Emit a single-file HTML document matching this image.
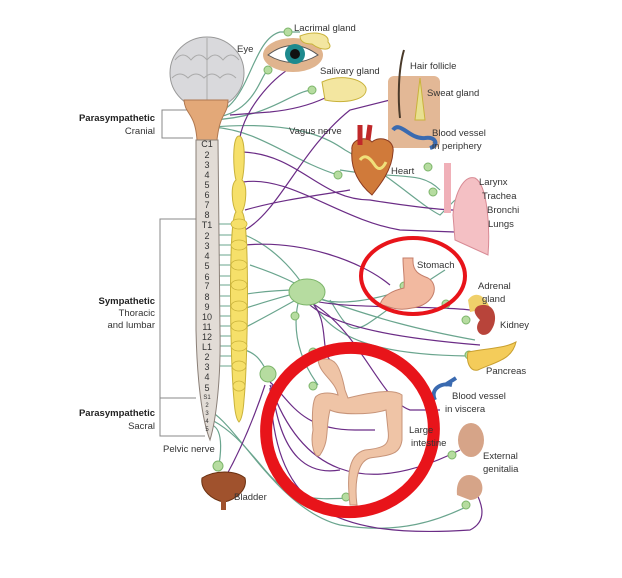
<!DOCTYPE html>
<html><head><meta charset="utf-8"><style>
html,body{margin:0;padding:0;background:#fff;}
svg{display:block;font-family:"Liberation Sans",sans-serif;}
.t{font-size:9.5px;fill:#333;}
.b{font-size:9.5px;font-weight:bold;fill:#222;}
.v{font-size:9px;fill:#333;text-anchor:middle;}
.g{fill:none;stroke:#6aa58e;stroke-width:1.2;}
.p{fill:none;stroke:#6b2c86;stroke-width:1.2;}
.gn{fill:#b6dca0;stroke:#7cb56a;stroke-width:1;}
</style></head><body>
<svg width="622" height="578" viewBox="0 0 622 578">
<rect width="622" height="578" fill="#fff"/>
<!-- brackets -->
<path d="M193,110 H162 V138 H193" fill="none" stroke="#888" stroke-width="1"/>
<path d="M196,219 H160 V398 H196 M160,398 V436 H205" fill="none" stroke="#888" stroke-width="1"/>
<text class="b" x="155" y="121" text-anchor="end">Parasympathetic</text>
<text class="t" x="155" y="134" text-anchor="end">Cranial</text>
<text class="b" x="155" y="304" text-anchor="end">Sympathetic</text>
<text class="t" x="155" y="316" text-anchor="end">Thoracic</text>
<text class="t" x="155" y="328" text-anchor="end">and lumbar</text>
<text class="b" x="155" y="416" text-anchor="end">Parasympathetic</text>
<text class="t" x="155" y="429" text-anchor="end">Sacral</text>
<!-- nerves green -->
<g class="g">
<path d="M210,115 C250,110 250,40 280,32 L300,32"/>
<path d="M210,118 C255,115 260,75 268,70"/>
<path d="M210,120 C270,118 290,92 312,90"/>
<path d="M212,127 C300,120 330,140 345,150 C390,175 420,205 440,215 L455,200"/>
<path d="M212,127 C260,130 290,160 338,175"/>
<path d="M250,265 C280,275 300,285 305,290"/>
<path d="M245,235 C280,250 300,280 305,288"/>
<path d="M240,295 C270,290 290,290 300,290"/>
<path d="M240,310 C270,300 290,295 300,292"/>
<path d="M240,330 C270,315 295,300 305,295"/>
<path d="M245,350 C260,355 262,365 268,372"/>
<path d="M310,295 C320,300 340,310 405,290"/>
<path d="M310,295 C380,320 420,330 475,340"/>
<path d="M310,298 C330,340 380,355 468,356"/>
<path d="M300,295 C290,330 300,360 318,385"/>
<path d="M212,420 C230,430 240,440 265,470 C290,500 310,500 350,498"/>
<path d="M212,412 C240,430 280,510 340,525 C400,535 440,520 470,505"/>
<path d="M212,425 C225,430 220,460 218,470"/>
<path d="M330,300 C360,350 350,330 445,270"/>
<path d="M340,170 C400,180 420,170 440,190"/>
</g>
<g stroke="#6aa58e" stroke-width="1">
<line x1="212" y1="224" x2="240" y2="224"/><line x1="212" y1="235" x2="240" y2="235"/><line x1="212" y1="245" x2="240" y2="245"/><line x1="212" y1="255" x2="240" y2="255"/><line x1="212" y1="265" x2="240" y2="265"/><line x1="212" y1="276" x2="240" y2="276"/><line x1="212" y1="285" x2="240" y2="285"/><line x1="212" y1="296" x2="240" y2="296"/><line x1="212" y1="306" x2="240" y2="306"/><line x1="212" y1="316" x2="240" y2="316"/><line x1="212" y1="326" x2="240" y2="326"/><line x1="212" y1="336" x2="240" y2="336"/><line x1="212" y1="346" x2="240" y2="346"/><line x1="212" y1="356" x2="240" y2="356"/><line x1="212" y1="366" x2="240" y2="366"/>
</g>
<!-- purple -->
<g class="p">
<path d="M240,137 C245,110 270,80 292,67"/>
<path d="M243,152 C300,155 320,200 370,200 C400,205 440,210 455,210"/>
<path d="M243,182 C290,175 340,220 400,230 L455,232"/>
<path d="M245,210 C280,200 320,195 350,190"/>
<path d="M245,230 C280,210 300,150 350,110 L390,100"/>
<path d="M245,245 C300,240 360,260 390,285"/>
<path d="M305,298 C330,310 430,305 470,310"/>
<path d="M305,300 C330,330 420,340 480,345"/>
<path d="M310,300 C330,320 320,350 330,360"/>
<path d="M310,302 C360,330 380,400 410,410 L440,410"/>
<path d="M270,382 C290,400 300,430 355,430 L375,430"/>
<path d="M272,385 C280,460 310,475 340,470"/>
<path d="M265,385 C250,430 235,460 225,478"/>
<path d="M270,388 C275,500 320,540 470,530 C490,520 480,500 475,490"/>
<path d="M270,385 C300,470 360,500 460,450"/>
<path d="M325,98 C310,105 290,110 270,112 L230,115"/>
</g>
<!-- brain -->
<ellipse cx="207" cy="73" rx="37" ry="36" fill="#d9d9dc" stroke="#999" stroke-width="1"/>
<path d="M175,60 q8,-10 16,0 q8,-10 16,0 q8,-10 16,0 q8,-10 16,0 M172,78 q8,-8 16,0 q8,-8 16,0 q8,-8 16,0 q8,-8 16,0 M207,38 V100" fill="none" stroke="#aaa" stroke-width="1"/>
<path d="M184,100 C185,115 195,112 197,140 H217 C220,112 228,115 228,100 Z" fill="#e3a878" stroke="#b07850"/>
<!-- spinal column -->
<path d="M196,140 H218 L220,330 C221,380 216,420 210,440 C202,420 197,380 196,330 Z" fill="#e2dcd6" stroke="#8a7f77" stroke-width="1"/>
<g class="v">
<text x="207" y="147">C1</text><text x="207" y="158">2</text><text x="207" y="168">3</text><text x="207" y="178">4</text><text x="207" y="188">5</text><text x="207" y="198">6</text><text x="207" y="208">7</text><text x="207" y="218">8</text>
<text x="207" y="228">T1</text><text x="207" y="239">2</text><text x="207" y="249">3</text><text x="207" y="259">4</text><text x="207" y="269">5</text><text x="207" y="280">6</text><text x="207" y="289">7</text><text x="207" y="300">8</text><text x="207" y="310">9</text><text x="207" y="320">10</text><text x="207" y="330">11</text><text x="207" y="340">12</text>
<text x="207" y="350">L1</text><text x="207" y="360">2</text><text x="207" y="370">3</text><text x="207" y="380">4</text><text x="207" y="391">5</text>
<text x="207" y="399" font-size="6">S1</text><text x="207" y="407" font-size="6">2</text><text x="207" y="415" font-size="6">3</text><text x="207" y="423" font-size="6">4</text><text x="207" y="431" font-size="6">5</text>
</g>
<!-- sympathetic chain -->
<path d="M239,136 C246,136 245,170 242,180 C248,185 246,205 242,212 C250,220 248,360 244,400 C243,415 241,420 239,422 C237,420 235,415 234,400 C230,360 228,220 236,212 C232,205 230,185 236,180 C233,170 232,136 239,136 Z" fill="#f6e06a" stroke="#c9b23a" stroke-width="1"/>
<g fill="#f6e06a" stroke="#c9b23a" stroke-width="0.8">
<ellipse cx="239" cy="224" rx="8" ry="5"/><ellipse cx="239" cy="245" rx="8" ry="5"/><ellipse cx="239" cy="265" rx="8" ry="5"/><ellipse cx="239" cy="285" rx="8" ry="5"/><ellipse cx="239" cy="306" rx="8" ry="5"/><ellipse cx="239" cy="326" rx="8" ry="5"/><ellipse cx="239" cy="346" rx="8" ry="5"/><ellipse cx="239" cy="366" rx="7" ry="5"/><ellipse cx="239" cy="386" rx="6" ry="5"/>
</g>
<!-- ganglia -->
<ellipse cx="307" cy="292" rx="18" ry="13" class="gn"/>
<circle cx="268" cy="374" r="8" class="gn"/>
<g class="gn"><circle cx="288" cy="32" r="4"/><circle cx="268" cy="70" r="4"/><circle cx="312" cy="90" r="4"/><circle cx="338" cy="175" r="4"/><circle cx="433" cy="192" r="4"/><circle cx="404" cy="286" r="4"/><circle cx="466" cy="320" r="4"/><circle cx="469" cy="355" r="4"/><circle cx="446" cy="304" r="4"/><circle cx="295" cy="316" r="4"/><circle cx="313" cy="352" r="4"/><circle cx="313" cy="386" r="4"/><circle cx="346" cy="497" r="4"/><circle cx="452" cy="455" r="4"/><circle cx="466" cy="505" r="4"/><circle cx="218" cy="466" r="5"/><circle cx="428" cy="167" r="4"/></g>
<!-- eye -->
<ellipse cx="293" cy="55" rx="30" ry="17" fill="#e0b48e"/>
<path d="M268,55 Q293,36 318,55 Q293,70 268,55Z" fill="#fff" stroke="#555"/>
<circle cx="295" cy="54" r="10" fill="#1e8a8e"/><circle cx="295" cy="54" r="5" fill="#111"/>
<path d="M300,36 C315,30 330,34 328,42 C335,50 322,52 312,44 C305,44 300,42 300,36Z" fill="#f3e6a0" stroke="#c9b23a"/>
<path d="M322,82 C340,74 362,78 366,88 C368,100 345,104 325,100 Z" fill="#f3e6a0" stroke="#c9b23a"/>
<!-- skin -->
<rect x="388" y="76" width="52" height="72" rx="6" fill="#e3b896"/>
<path d="M404,50 C398,70 398,100 400,118" stroke="#4a3a2a" stroke-width="2" fill="none"/>
<path d="M420,78 L425,120 L415,120Z" fill="#e8e090" stroke="#c9b23a"/>
<path d="M393,130 C400,120 410,140 425,138 C435,136 440,145 430,148" stroke="#3a6ab0" stroke-width="4" fill="none"/>
<!-- heart -->
<path d="M352,150 C350,140 365,135 372,142 C380,135 395,140 393,152 C392,170 380,185 372,195 C360,185 350,170 352,150Z" fill="#d07a3a" stroke="#8a3a20"/>
<path d="M360,145 L360,125 M368,140 L370,125" stroke="#c0282a" stroke-width="5"/>
<path d="M360,160 q6,-8 14,4 q6,10 12,-2" stroke="#f0e07a" stroke-width="3" fill="none"/>
<!-- lungs -->
<rect x="444" y="163" width="7" height="50" fill="#f0b0b8"/>
<path d="M453,215 C455,190 465,175 475,178 C488,185 490,230 488,255 L455,240 Z" fill="#f4c0c4" stroke="#d88a94"/>
<!-- stomach -->
<path d="M403,258 L413,258 C412,272 420,275 428,278 C440,285 435,305 412,308 C395,312 388,305 380,305 C382,295 395,290 404,288 C405,280 403,270 403,258Z" fill="#f2b9a0" stroke="#c47e6a"/>
<!-- adrenal kidney pancreas -->
<path d="M468,300 C475,290 485,295 490,308 L470,312 Z" fill="#f0d06a"/>
<path d="M478,306 C495,300 500,320 490,332 C482,340 472,330 480,320 C475,315 472,310 478,306Z" fill="#b8443a"/>
<path d="M468,352 C490,348 505,348 516,342 C512,360 495,362 478,370 C470,372 466,362 468,352Z" fill="#f4cc5a" stroke="#c9a030"/>
<!-- vessel -->
<path d="M435,400 C430,390 440,382 452,385 M445,385 L456,378" stroke="#3a6ab0" stroke-width="4" fill="none"/>
<!-- genitalia -->
<ellipse cx="471" cy="440" rx="13" ry="17" fill="#d6a488"/>
<path d="M457,495 C455,475 470,470 480,480 C486,490 480,500 470,500 Z" fill="#d6a488"/>
<!-- large intestine -->
<path d="M318,360 C335,355 340,365 345,390 L348,398 C380,390 395,390 402,395 L402,440 C400,455 390,455 370,458 C355,462 355,490 357,505 L350,505 C348,485 345,455 365,450 C385,448 390,445 388,430 L386,410 C370,415 340,415 330,410 C325,430 330,440 320,455 C315,460 310,445 313,430 C312,420 312,405 315,398 C318,392 330,392 338,395 C335,380 320,375 318,360Z" fill="#efc4a6" stroke="#c79479"/>
<!-- bladder -->
<path d="M202,478 C215,470 235,470 245,478 C248,490 235,500 224,502 C212,500 200,490 202,478Z" fill="#a0522d" stroke="#6a3010"/>
<rect x="221" y="500" width="5" height="10" fill="#a0522d"/>
<!-- red circles -->
<ellipse cx="413" cy="276" rx="52" ry="38" fill="none" stroke="#e8141a" stroke-width="4"/>
<ellipse cx="350" cy="430" rx="84" ry="82" fill="none" stroke="#e8141a" stroke-width="12" transform="rotate(-15 350 430)"/>
<!-- labels -->
<g class="t">
<text x="294" y="31">Lacrimal gland</text>
<text x="237" y="52">Eye</text>
<text x="320" y="74">Salivary gland</text>
<text x="410" y="69">Hair follicle</text>
<text x="427" y="96">Sweat gland</text>
<text x="289" y="134">Vagus nerve</text>
<text x="432" y="136">Blood vessel</text>
<text x="432" y="149">in periphery</text>
<text x="391" y="174">Heart</text>
<text x="479" y="185">Larynx</text>
<text x="482" y="199">Trachea</text>
<text x="487" y="213">Bronchi</text>
<text x="488" y="227">Lungs</text>
<text x="417" y="268">Stomach</text>
<text x="478" y="289">Adrenal</text>
<text x="482" y="302">gland</text>
<text x="500" y="328">Kidney</text>
<text x="486" y="374">Pancreas</text>
<text x="452" y="399">Blood vessel</text>
<text x="445" y="412">in viscera</text>
<text x="409" y="433">Large</text>
<text x="411" y="446">intestine</text>
<text x="483" y="459">External</text>
<text x="483" y="472">genitalia</text>
<text x="163" y="452">Pelvic nerve</text>
<text x="234" y="500">Bladder</text>
</g>
</svg>
</body></html>
